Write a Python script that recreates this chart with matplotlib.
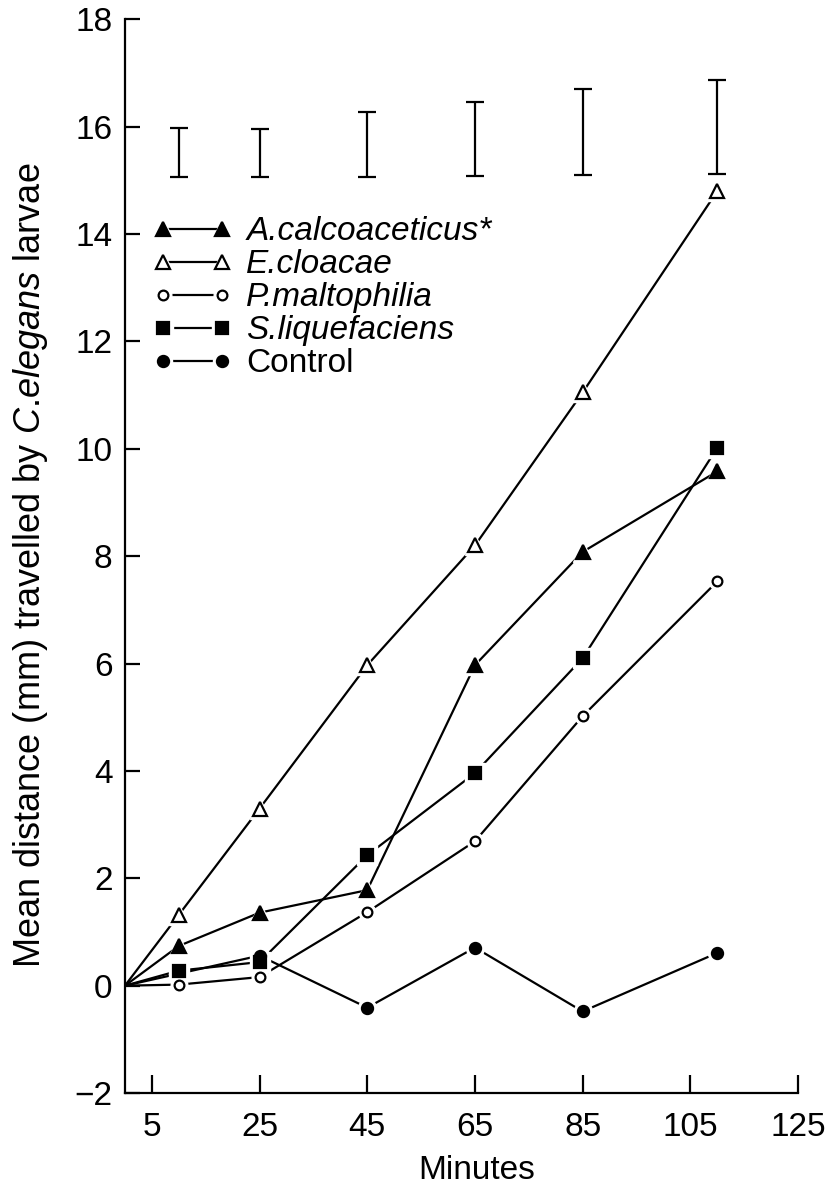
import matplotlib
matplotlib.use("Agg")
import matplotlib.pyplot as plt
import numpy as np
from matplotlib.lines import Line2D
from matplotlib.legend_handler import HandlerTuple

plt.rcParams['font.family'] = ['Liberation Sans', 'DejaVu Sans']
plt.rcParams['mathtext.fontset'] = 'custom'
plt.rcParams['mathtext.rm'] = 'Liberation Sans'
plt.rcParams['mathtext.it'] = 'Liberation Sans:italic'

# sampling times (min) and mean distances (mm)
minutes = [0, 10, 25, 45, 65, 85, 110]
a_calco = [0, 0.74, 1.36, 1.78, 5.97, 8.08, 9.58]
e_cloacae = [0, 1.32, 3.3, 5.97, 8.2, 11.05, 14.8]
p_malto = [0, 0.02, 0.16, 1.37, 2.69, 5.02, 7.53]
s_lique = [0, 0.28, 0.44, 2.43, 3.96, 6.1, 10.02]

control_minutes = [0, 25, 45, 65, 85, 110]
control = [0, 0.56, -0.41, 0.71, -0.48, 0.61]

# spread bars drawn along the top
bar_minutes = [10, 25, 45, 65, 85, 110]
bar_low = [15.06, 15.06, 15.07, 15.08, 15.1, 15.12]
bar_high = [15.98, 15.96, 16.28, 16.47, 16.7, 16.88]

xticks = [5, 25, 45, 65, 85, 105, 125]
yticks = [-2, 0, 2, 4, 6, 8, 10, 12, 14, 16, 18]

fig = plt.figure(figsize=(8.33, 11.89), dpi=100)
ax = fig.add_axes([0.150, 0.0807, 0.808, 0.903])

lw = 1.6
gap = 5
fs = 24

series = [
    (minutes, a_calco, '^', 10, 'k', 'A.calcoaceticus*'),
    (minutes, e_cloacae, '^', 10, 'w', 'E.cloacae'),
    (minutes, p_malto, 'o', 7, 'w', 'P.maltophilia'),
    (minutes, s_lique, 's', 9, 'k', 'S.liquefaciens'),
    (control_minutes, control, 'o', 8, 'k', 'Control'),
]

handles, labels = [], []
for t, y, mk, ms, fc, name in series:
    ax.plot(t, y, color='k', lw=lw, zorder=2, solid_capstyle='butt')
    # white halo leaves a small gap where the line meets each marker
    ax.plot(t[1:], y[1:], ls='none', marker=mk, ms=ms + gap, mfc='w', mec='w',
            zorder=3)
    ax.plot(t[1:], y[1:], ls='none', marker=mk, ms=ms, mfc=fc, mec='k',
            mew=1.6, zorder=4)
    h_line = Line2D([], [], color='k', lw=lw)
    h_halo = Line2D([], [], ls='none', marker=mk, ms=ms + gap, mfc='w', mec='w')
    h_mark = Line2D([], [], ls='none', marker=mk, ms=ms, mfc=fc, mec='k', mew=1.6)
    handles.append((h_line, h_halo, h_mark))
    labels.append(name)

mid = (np.array(bar_high) + np.array(bar_low)) / 2
half = (np.array(bar_high) - np.array(bar_low)) / 2
ax.errorbar(bar_minutes, mid, yerr=half, fmt='none', ecolor='k', elinewidth=1.6,
            capsize=6.5, capthick=1.6)

ax.set_xlim(0, 125)
ax.set_ylim(-2, 18)
ax.set_xticks(xticks)
ax.set_yticks(yticks)
ax.set_yticklabels([str(v).replace('-', '\u2212') for v in yticks])
ax.spines['top'].set_visible(False)
ax.spines['right'].set_visible(False)
for s in ('left', 'bottom'):
    ax.spines[s].set_linewidth(1.6)
ax.tick_params(axis='x', direction='in', length=13, width=1.6, pad=14, labelsize=fs)
ax.tick_params(axis='y', direction='in', length=11, width=1.6, pad=9, labelsize=fs)

ax.set_xlabel('Minutes', fontsize=fs)
ax.xaxis.set_label_coords(0.523, -0.058)
ax.set_ylabel(r'Mean distance (mm) travelled by $\mathit{C}$.$\mathit{elegans}$ larvae',
              fontsize=26)
ax.yaxis.set_label_coords(-0.111, 0.492)

leg = ax.legend(handles, labels, handler_map={tuple: HandlerTuple(ndivide=1, pad=0)},
                loc='upper left', bbox_to_anchor=(0.184, 0.818),
                bbox_transform=fig.transFigure, frameon=False, fontsize=fs,
                numpoints=2, handlelength=2.37, handletextpad=0.42,
                labelspacing=0.06, borderpad=0, borderaxespad=0)
for txt in leg.get_texts()[:4]:
    txt.set_fontstyle('italic')

fig.savefig('out.png', dpi=100, facecolor='white')
